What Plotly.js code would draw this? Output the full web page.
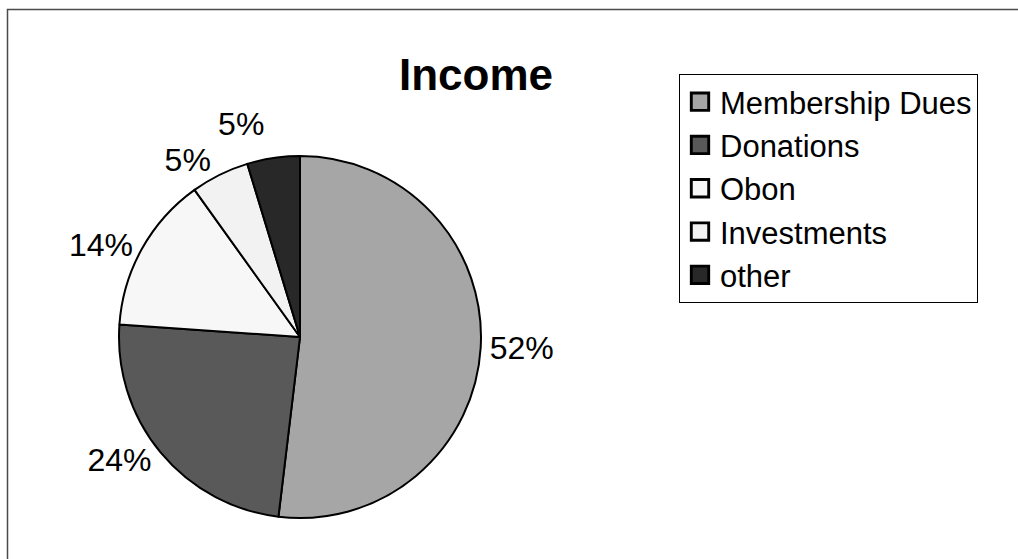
<!DOCTYPE html>
<html>
<head>
<meta charset="utf-8">
<script src="https://cdn.plot.ly/plotly-3.0.1.min.js"></script>
<style>html,body{margin:0;padding:0;background:#fff;}#chart{width:1018px;height:559px;}</style>
</head>
<body>
<div id="chart"></div>
<script>
const labels = ["Membership Dues", "Donations", "Obon", "Investments", "other"];
const values = [51.9, 24.2, 14.0, 5.2, 4.7];
const colors = ["#a6a6a6", "#595959", "#f7f7f7", "#f2f2f2", "#282828"];
const chartTitle = "Income";

const W = 1018, H = 559;
const cx = 300, cy = 337, r = 181;
const FONT = "Liberation Sans, Arial, sans-serif";

const trace = {
  type: "pie",
  labels: labels,
  values: values,
  sort: false,
  direction: "clockwise",
  rotation: 0,
  marker: { colors: colors, line: { color: "#000", width: 2 } },
  textinfo: "percent",
  texttemplate: "%{percent:.0%}",
  textposition: "outside",
  outsidetextfont: { family: FONT, size: 32, color: "#000" },
  hoverinfo: "label+percent",
  domain: { x: [(cx - r) / W, (cx + r) / W], y: [(H - cy - r) / H, (H - cy + r) / H] }
};

const layout = {
  width: W, height: H,
  margin: { l: 0, r: 0, t: 0, b: 0 },
  paper_bgcolor: "#fff",
  font: { family: FONT, color: "#000" },
  title: {
    text: "<b>" + chartTitle + "</b>",
    font: { family: FONT, size: 44, color: "#000" },
    x: 476 / W, xanchor: "center", xref: "paper",
    y: 1 - 75 / H, yanchor: "middle", yref: "paper"
  },
  showlegend: true,
  legend: {
    x: 679 / W, xanchor: "left",
    y: 1 - 74 / H, yanchor: "top",
    bgcolor: "#fff", bordercolor: "#000", borderwidth: 1,
    font: { family: FONT, size: 31, color: "#000" },
    traceorder: "normal"
  },
  shapes: [{
    type: "rect", xref: "paper", yref: "paper",
    x0: 7.5 / W, x1: 1.05, y0: -0.05, y1: 1 - 9.5 / H,
    line: { color: "#4a4a4a", width: 1.5 }, fillcolor: "rgba(0,0,0,0)", layer: "below"
  }]
};

Plotly.newPlot("chart", [trace], layout, { displayModeBar: false, staticPlot: true }).then(function (gd) {
  // the reference has no leader lines on the outside labels
  gd.querySelectorAll("path.textline").forEach(function (p) { p.remove(); });
  // larger legend swatches, as in the reference
  gd.querySelectorAll(".legend .legendpoints path").forEach(function (p) {
    const t = p.getAttribute("transform") || "";
    p.setAttribute("transform", t + " scale(1.45)");
  });
});
</script>
</body>
</html>
